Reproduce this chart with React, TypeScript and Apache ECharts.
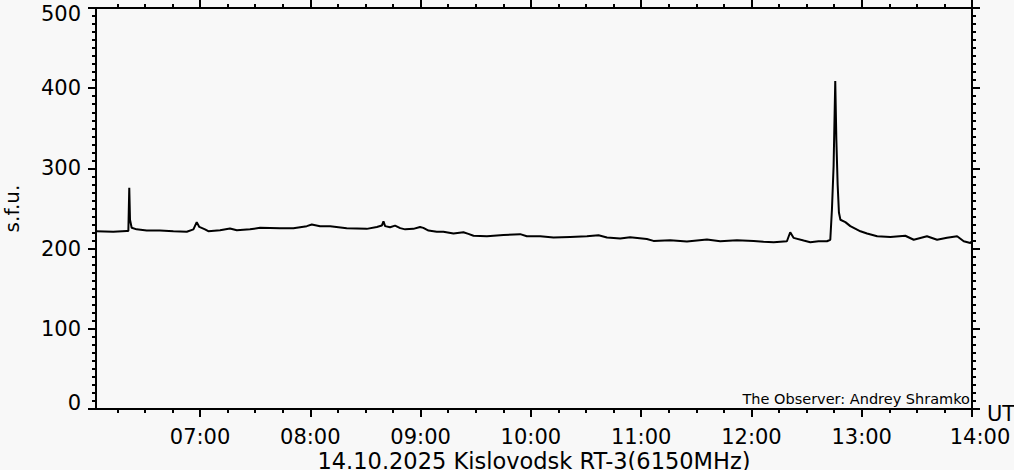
import React, { useEffect, useRef } from "react";
import * as echarts from "echarts";

// Observation times (UT) and flux readings (s.f.u.)
const timesUT = [
  "06:03:24", "06:12:48", "06:20:06", "06:21:00", "06:21:30", "06:21:54", "06:22:48", "06:25:30",
  "06:31:00", "06:38:12", "06:45:30", "06:52:48", "06:56:24", "06:58:12", "06:59:36", "07:02:42",
  "07:04:30", "07:10:54", "07:16:18", "07:20:00", "07:27:12", "07:32:42", "07:43:30", "07:50:48",
  "07:58:06", "08:00:48", "08:05:18", "08:10:48", "08:19:48", "08:30:42", "08:36:12", "08:38:54",
  "08:39:48", "08:40:42", "08:43:24", "08:46:06", "08:48:54", "08:51:36", "08:56:06", "08:59:42",
  "09:01:30", "09:04:18", "09:08:48", "09:12:24", "09:17:54", "09:23:18", "09:26:00", "09:28:48",
  "09:36:06", "09:45:06", "09:54:12", "09:57:48", "10:05:06", "10:12:18", "10:21:24", "10:30:30",
  "10:36:48", "10:41:24", "10:48:36", "10:54:00", "11:03:06", "11:06:42", "11:15:48", "11:24:54",
  "11:35:48", "11:43:00", "11:52:06", "12:01:12", "12:06:36", "12:12:06", "12:19:18", "12:21:06",
  "12:22:54", "12:28:24", "12:32:00", "12:36:30", "12:41:06", "12:42:54", "12:43:48", "12:44:42",
  "12:45:36", "12:46:12", "12:46:54", "12:47:36", "12:48:24", "12:51:06", "12:53:48", "12:59:18",
  "13:02:54", "13:08:24", "13:15:36", "13:23:42", "13:28:18", "13:35:30", "13:41:00", "13:46:24",
  "13:51:54", "13:55:30", "13:59:06", "13:59:54",
];
const fluxSFU = [
  221.7, 221, 222, 222, 276, 236, 226, 224,
  222.5, 222.5, 221.7, 221, 224, 233, 227, 224,
  221.7, 223, 225, 223, 224, 226, 225.5, 225.5,
  228, 230, 228, 228, 225.5, 224.6, 227, 228.7,
  234, 228, 226.7, 228.7, 225.5, 224, 224.6, 227,
  225.8, 222.5, 221, 221, 218.7, 220.4, 218.3, 216,
  215.4, 217, 218, 215.4, 215.4, 213.8, 214.6, 215.4,
  216.6, 213.8, 212.5, 214.2, 212, 209.6, 210.4, 208.8,
  211.3, 209.2, 210.4, 209.6, 208.4, 207.9, 209.2, 220.4,
  213.4, 210, 208, 209.2, 209.2, 211, 249, 303,
  409, 336, 280, 245, 236, 233, 228, 221.6,
  218.8, 215.4, 214.6, 216, 211, 215.4, 211, 213.4,
  215.4, 209.2, 207, 209,
];

const hourTicks = [7, 8, 9, 10, 11, 12, 13, 14];
const quarterTicks = [
  6.25, 6.5, 6.75, 7.25, 7.5, 7.75, 8.25, 8.5, 8.75, 9.25, 9.5, 9.75,
  10.25, 10.5, 10.75, 11.25, 11.5, 11.75, 12.25, 12.5, 12.75, 13.25, 13.5, 13.75,
];
const xStartUT = "06:03:24";
const xEndUT = "14:00:00";
const titleText = "14.10.2025 Kislovodsk RT-3(6150MHz)";
const observerText = "The Observer: Andrey Shramko";
const yName = "s.f.u.";
const xName = "UT";

const toHours = (s: string) => {
  const [h, m, sec] = s.split(":").map(Number);
  return h + m / 60 + (sec || 0) / 3600;
};

const FONT = "DejaVu Sans";
const BG = "#f8f8f8";

export default function App() {
  const ref = useRef<HTMLDivElement>(null);
  useEffect(() => {
    document.body.style.margin = "0";
    document.body.style.background = BG;
    if (!ref.current) return;
    const chart = echarts.init(ref.current, undefined, { renderer: "svg" });
    const xMin = toHours(xStartUT);
    const xMax = toHours(xEndUT);
    const line = { color: "#000", width: 2 };
    const data = timesUT.map((t, i) => [toHours(t), fluxSFU[i]]);
    const baseX = {
      type: "value",
      min: xMin,
      max: xMax,
      splitLine: { show: false },
      axisLine: { show: true, onZero: false, lineStyle: line },
    };
    const option: any = {
      animation: false,
      backgroundColor: BG,
      grid: { left: 96, top: 8, width: 876, height: 401, containLabel: false, outerBoundsMode: "none" },
      xAxis: [
        {
          ...baseX,
          position: "bottom",
          axisTick: { show: true, customValues: hourTicks, length: 8, lineStyle: line },
          axisLabel: {
            customValues: hourTicks,
            margin: 20,
            fontSize: 21,
            lineHeight: 16,
            fontFamily: FONT,
            color: "#000",
            formatter: (v: number) => {
              const s = `${String(Math.round(v)).padStart(2, "0")}:00`;
              return Math.round(v) === 14 ? `{e|${s}}` : s;
            },
            rich: { e: { fontSize: 21, lineHeight: 16, fontFamily: FONT, color: "#000", padding: [0, 0, 0, 16] } },
          },
        },
        {
          ...baseX,
          position: "bottom",
          axisLine: { show: false, onZero: false },
          axisTick: { show: true, customValues: quarterTicks, length: 4, lineStyle: line },
          axisLabel: { show: false },
        },
        {
          ...baseX,
          position: "top",
          axisTick: { show: true, customValues: hourTicks, length: 8, lineStyle: line },
          axisLabel: { show: false },
        },
        {
          ...baseX,
          position: "top",
          axisLine: { show: false, onZero: false },
          axisTick: { show: true, customValues: quarterTicks, length: 4, lineStyle: line },
          axisLabel: { show: false },
        },
      ],
      yAxis: [
        {
          type: "value",
          position: "left",
          min: 0,
          max: 500,
          interval: 100,
          splitLine: { show: false },
          axisLine: { show: true, onZero: false, lineStyle: line },
          axisTick: { show: true, length: 8, lineStyle: line },
          minorTick: { show: true, splitNumber: 10, length: 4, lineStyle: line },
          axisLabel: {
            margin: 15,
            fontSize: 21,
            fontFamily: FONT,
            color: "#000",
            formatter: (v: number) => (v === 500 ? `{t|500}` : v === 0 ? `{b|0}` : String(v)),
            rich: {
              t: { fontSize: 21, fontFamily: FONT, color: "#000", padding: [12, 0, 0, 0] },
              b: { fontSize: 21, fontFamily: FONT, color: "#000", padding: [0, 0, 12, 0] },
            },
          },
          name: yName,
          nameLocation: "middle",
          nameRotate: 90,
          nameGap: 74,
          nameTextStyle: { fontSize: 20, fontFamily: FONT, color: "#000" },
        },
        {
          type: "value",
          position: "right",
          min: 0,
          max: 500,
          interval: 100,
          splitLine: { show: false },
          axisLine: { show: true, onZero: false, lineStyle: line },
          axisTick: { show: true, length: 8, lineStyle: line },
          minorTick: { show: true, splitNumber: 10, length: 4, lineStyle: line },
          axisLabel: { show: false },
        },
      ],
      graphic: [
        {
          type: "text",
          x: 987,
          y: 414,
          style: { text: xName, fontSize: 21, lineHeight: 16, fontFamily: FONT, fill: "#000", align: "left", verticalAlign: "middle" },
        },
        {
          type: "text",
          x: 534,
          y: 461,
          style: { text: titleText, fontSize: 22.5, lineHeight: 18, fontFamily: FONT, fill: "#000", align: "center", verticalAlign: "middle" },
        },
        {
          type: "text",
          x: 970,
          y: 399,
          style: { text: observerText, fontSize: 14.5, lineHeight: 14, fontFamily: FONT, fill: "#000", align: "right", verticalAlign: "middle" },
        },
      ],
      series: [
        {
          type: "line",
          xAxisIndex: 0,
          yAxisIndex: 0,
          data,
          showSymbol: false,
          symbol: "none",
          lineStyle: { color: "#000", width: 2 },
          clip: true,
        },
      ],
    };
    chart.setOption(option);
    return () => chart.dispose();
  }, []);
  return <div ref={ref} style={{ width: 1014, height: 470 }} />;
}
